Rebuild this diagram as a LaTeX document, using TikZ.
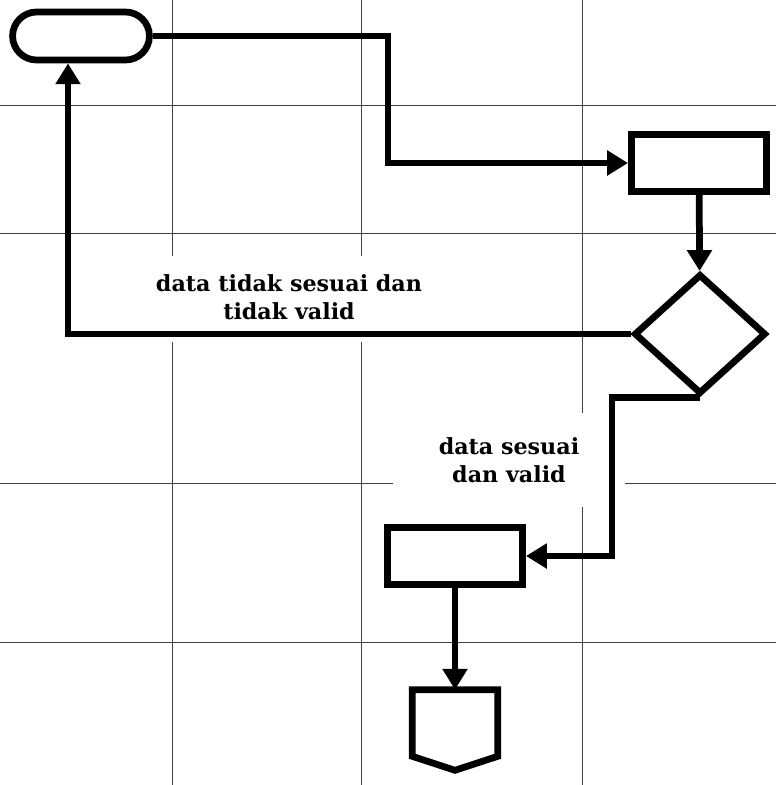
\documentclass[tikz,border=0pt]{standalone}
\usepackage{fontspec}
\setmainfont{DejaVu Serif}
\usetikzlibrary{arrows.meta, positioning, shapes.geometric, shapes.misc, calc}

\begin{document}
\begin{tikzpicture}[
    x=0.025cm, y=-0.025cm,
    gridline/.style={draw=black!75, line width=0.7pt},
    flow/.style={line width=4.8pt, -{Triangle[length=0.52cm, width=0.6cm]}},
    term/.style={rounded rectangle, draw, line width=4.8pt,
                 minimum width=3.42cm, minimum height=1.2cm, inner sep=0pt},
    proc/.style={rectangle, draw, line width=4.8pt,
                 minimum width=3.38cm, minimum height=1.42cm, inner sep=0pt},
    decision/.style={diamond, draw, line width=4.8pt, aspect=1.1,
                 minimum width=3.3cm, minimum height=3cm, inner sep=0pt},
    lbl/.style={font=\fontsize{15.8}{19.5}\selectfont\bfseries, align=center},
  ]
    % grid behind the flowchart
    \useasboundingbox (0,0) rectangle (776,785);
    \foreach \y in {105,233,642}{
      \draw[gridline] (0,\y) -- (776,\y);
    }
    \draw[gridline] (0,483) -- (393,483) (625,483) -- (776,483);
    \foreach \x in {172,361}{
      \draw[gridline] (\x,0) -- (\x,256) (\x,342) -- (\x,785);
    }
    \draw[gridline] (582,0) -- (582,413) (582,507) -- (582,785);

    % shapes
    \node[term] (start) at (81,36) {};
    \node[proc] (input) at (699,163) {};
    \node[decision] (check) at (700,334) {};
    \node[proc] (save) at (455,556) {};
    \node[minimum width=2.125cm, minimum height=2cm, inner sep=0pt] (page) at (455,730) {};
    \draw[line width=4.8pt] (page.north west) -- (page.north east)
      -- ($(page.south east)+(0,-14)$) -- (page.south)
      -- ($(page.south west)+(0,-14)$) -- cycle;

    % labels
    \node[lbl] (nok) at (289,297) {data tidak sesuai dan\\tidak valid};
    \node[lbl] (ok) at (509,460) {data sesuai\\dan valid};

    % connectors
    \coordinate (b1) at (388,100);
    \coordinate (b2) at (68,200);
    \coordinate (b3) at (612,480);
    \draw[flow] (start.east) -| (b1) |- (input.west);
    \draw[flow] (input) -- (check);
    \draw[flow] (check.west) -| (start.south -| b2);
    \draw[flow] (check.south) -| (b3) |- (save.east);
    \draw[flow] (save) -- (page);
  \end{tikzpicture}
\end{document}
